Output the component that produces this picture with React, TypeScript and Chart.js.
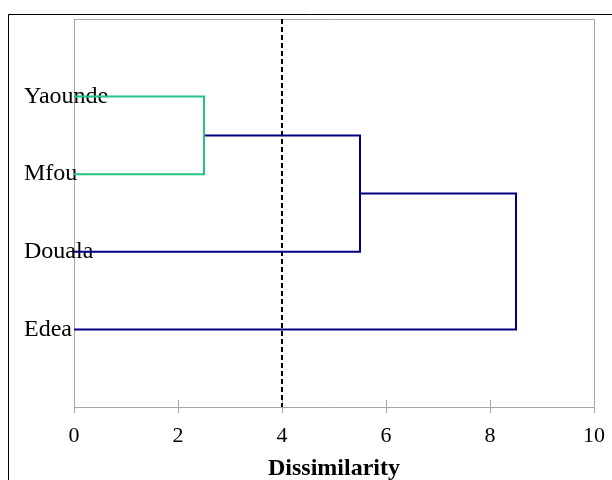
import React, { useEffect, useRef } from "react";
import { Chart, registerables } from "chart.js";

Chart.register(...registerables);

// ---- data ----
const leafNames = ["Yaounde", "Mfou", "Douala", "Edea"];
const leafPositions = [1, 2, 3, 4];
// merge steps: member index >= 0 is a leaf, < 0 is a previous cluster (-(k+1))
const mergeA = [0, -1, -2];
const mergeB = [1, 2, 3];
const mergeDistances = [2.5, 5.5, 8.5];
const mergeColors = ["#23C383", "#000080", "#000080"];
const cutDistance = 4;
const xTickValues = [0, 2, 4, 6, 8, 10];
const axisTitle = "Dissimilarity";

const SERIF = "'Liberation Serif', 'Times New Roman', serif";
const GRAY = "#A6A6A6";

function buildDatasets() {
  const clusterPos: number[] = [];
  const clusterDist: number[] = [];
  const sets: any[] = [];
  const member = (m: number) =>
    m >= 0
      ? { y: leafPositions[m], x: 0 }
      : { y: clusterPos[-m - 1], x: clusterDist[-m - 1] };
  for (let i = 0; i < mergeDistances.length; i++) {
    const a = member(mergeA[i]);
    const b = member(mergeB[i]);
    const d = mergeDistances[i];
    sets.push({
      data: [
        { x: a.x, y: a.y },
        { x: d, y: a.y },
        { x: d, y: b.y },
        { x: b.x, y: b.y },
      ],
      borderColor: mergeColors[i],
      borderWidth: 2,
      showLine: true,
      pointRadius: 0,
      tension: 0,
      borderJoinStyle: "miter",
      fill: false,
    });
    clusterPos.push((a.y + b.y) / 2);
    clusterDist.push(d);
  }
  sets.push({
    data: [
      { x: cutDistance, y: 0 },
      { x: cutDistance, y: leafPositions.length + 1 },
    ],
    borderColor: "#000000",
    borderWidth: 2,
    borderDash: [5, 3],
    showLine: true,
    pointRadius: 0,
    fill: false,
  });
  return sets;
}

const framePlugin = {
  id: "frame",
  beforeDraw(chart: any) {
    const ctx = chart.ctx;
    ctx.save();
    ctx.fillStyle = "#ffffff";
    ctx.fillRect(0, 0, chart.width, chart.height);
    ctx.strokeStyle = "#000000";
    ctx.lineWidth = 1;
    ctx.beginPath();
    ctx.moveTo(8.5, chart.height);
    ctx.lineTo(8.5, 14.5);
    ctx.lineTo(chart.width, 14.5);
    ctx.stroke();
    ctx.restore();
  },
  beforeDatasetsDraw(chart: any) {
    const ctx = chart.ctx;
    const { top, right, bottom, left } = chart.chartArea;
    ctx.save();
    ctx.strokeStyle = GRAY;
    ctx.lineWidth = 1;
    ctx.beginPath();
    ctx.moveTo(Math.round(left) + 0.5, Math.round(top) + 0.5);
    ctx.lineTo(Math.round(right) + 0.5, Math.round(top) + 0.5);
    ctx.lineTo(Math.round(right) + 0.5, Math.round(bottom) + 0.5);
    ctx.stroke();
    const xs = chart.scales.x;
    for (const v of xTickValues) {
      const px = Math.round(xs.getPixelForValue(v)) + 0.5;
      ctx.beginPath();
      ctx.moveTo(px, bottom - 7);
      ctx.lineTo(px, bottom + 6);
      ctx.stroke();
    }
    ctx.restore();
  },
};

export default function App() {
  const ref = useRef<HTMLCanvasElement | null>(null);
  useEffect(() => {
    if (!ref.current) return;
    const chart = new Chart(ref.current, {
      type: "scatter",
      data: { datasets: buildDatasets() },
      options: {
        animation: false,
        responsive: false,
        devicePixelRatio: 1,
        layout: { padding: { left: 24, top: 19, right: 18, bottom: 0 } },
        plugins: { legend: { display: false }, tooltip: { enabled: false } },
        scales: {
          x: {
            type: "linear",
            min: 0,
            max: 10,
            afterFit: (s: any) => {
              s.height = 73;
              s.paddingLeft = 0;
              s.paddingRight = 0;
            },
            afterBuildTicks: (s: any) => {
              s.ticks = xTickValues.map((v) => ({ value: v }));
            },
            grid: { display: false, drawTicks: false, tickLength: 0 },
            border: { display: true, color: GRAY, width: 1 },
            ticks: {
              padding: 16,
              color: "#000000",
              font: { family: SERIF, size: 22 },
              maxRotation: 0,
            },
            title: {
              display: true,
              text: axisTitle,
              color: "#000000",
              font: { family: SERIF, size: 24, weight: "bold" },
              padding: { top: 0, bottom: -3 },
            },
          },
          y: {
            type: "linear",
            min: 0,
            max: leafPositions.length + 1,
            reverse: true,
            afterFit: (s: any) => {
              s.width = 50;
              s.paddingTop = 0;
              s.paddingBottom = 0;
            },
            afterBuildTicks: (s: any) => {
              s.ticks = leafPositions.map((v) => ({ value: v }));
            },
            grid: { display: false },
            border: { display: true, color: GRAY, width: 1 },
            ticks: {
              mirror: true,
              crossAlign: "near",
              padding: -50,
              color: "#000000",
              font: { family: SERIF, size: 24 },
              callback: (v: any) => {
                const i = leafPositions.indexOf(Number(v));
                return i >= 0 ? leafNames[i] : "";
              },
            },
          },
        },
      } as any,
      plugins: [framePlugin],
    });
    return () => chart.destroy();
  }, []);
  return (
    <div style={{ position: "absolute", left: 0, top: 0, width: 612, height: 480 }}>
      <canvas ref={ref} width={612} height={480} style={{ display: "block" }} />
    </div>
  );
}
